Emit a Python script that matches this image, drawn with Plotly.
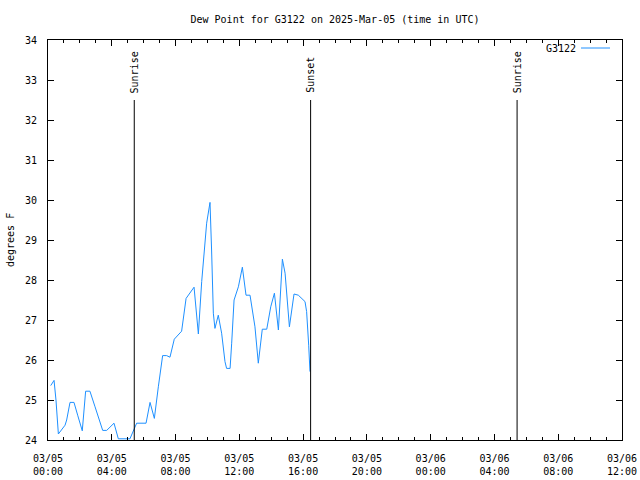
import pandas as pd
import plotly.graph_objects as go

# ---- data ----
hours = [0.17, 0.38, 0.5, 0.65, 1.07, 1.17, 1.38, 1.63, 1.86, 2.15,
         2.36, 2.63, 2.95, 3.43, 3.68, 4.14, 4.41, 5.14, 5.56, 6.15,
         6.4, 6.67, 6.92, 7.19, 7.44, 7.65, 7.92, 8.38, 8.66, 9.16,
         9.43, 9.64, 9.95, 10.16, 10.26, 10.37, 10.47, 10.68, 10.89, 11.1,
         11.2, 11.42, 11.52, 11.67, 11.94, 12.19, 12.42, 12.67, 12.98, 13.19,
         13.44, 13.72, 13.97, 14.2, 14.45, 14.7, 14.87, 15.14, 15.43, 15.7,
         16.12, 16.22, 16.35, 16.43]
dewpoint = [25.36, 25.49, 25.0, 24.15, 24.37, 24.5, 24.94, 24.94, 24.62, 24.23,
            25.22, 25.22, 24.83, 24.24, 24.24, 24.42, 24.03, 24.03, 24.42, 24.42,
            24.94, 24.54, 25.33, 26.11, 26.11, 26.07, 26.52, 26.72, 27.54, 27.82,
            26.65, 27.96, 29.42, 29.94, 28.75, 27.17, 26.79, 27.12, 26.67, 25.96,
            25.79, 25.79, 26.42, 27.5, 27.83, 28.32, 27.62, 27.62, 26.83, 25.92,
            26.77, 26.77, 27.33, 27.67, 26.75, 28.52, 28.17, 26.83, 27.65, 27.62,
            27.46, 27.21, 26.37, 25.71]
event_names = ["Sunrise", "Sunset", "Sunrise"]
event_hours = [5.41, 16.47, 29.42]
series_name = "G3122"
title_text = "Dew Point for G3122 on 2025-Mar-05 (time in UTC)"

base = pd.Timestamp("2025-03-05 00:00")
times = base + pd.to_timedelta(hours, unit="h")
ev_times = base + pd.to_timedelta(event_hours, unit="h")

FONT = "DejaVu Sans Mono"
L, R, T, B = 48, 622, 40, 440
PW, PH = R - L, B - T

fig = go.Figure()
fig.add_trace(go.Scatter(x=times, y=dewpoint, mode="lines", name=series_name,
                         line=dict(color="#1e90ff", width=1), showlegend=False))

for name, t in zip(event_names, ev_times):
    fig.add_shape(type="line", xref="x", yref="y", x0=t, x1=t, y0=24, y1=32.5,
                  line=dict(color="black", width=1))
    fig.add_annotation(x=t, y=32.62, xref="x", yref="y", text=name, textangle=-90,
                       showarrow=False, xanchor="center", yanchor="bottom",
                       font=dict(family=FONT, size=10, color="black"))

# legend (text then line sample, as in the reference)
fig.add_annotation(xref="paper", yref="paper", x=(578 - L) / PW, y=(B - 48) / PH,
                   text=series_name, showarrow=False, xanchor="right", yanchor="middle",
                   font=dict(family=FONT, size=10, color="black"))
fig.add_shape(type="line", xref="paper", yref="paper",
              x0=(581 - L) / PW, x1=(610 - L) / PW, y0=(B - 48) / PH, y1=(B - 48) / PH,
              line=dict(color="#1e90ff", width=1))

# y-axis title
fig.add_annotation(xref="paper", yref="paper", x=(10 - L) / PW, y=0.5,
                   text="degrees F", textangle=-90, showarrow=False,
                   xanchor="center", yanchor="middle",
                   font=dict(family=FONT, size=10, color="black"))

fig.update_layout(
    width=640, height=480,
    margin=dict(l=L, r=640 - R, t=T, b=480 - B, autoexpand=False),
    paper_bgcolor="white", plot_bgcolor="white",
    font=dict(family=FONT, size=10, color="black"),
    title=dict(text=title_text, x=0.5, xref="paper", y=1 - 19 / 480, yanchor="middle",
               xanchor="center", font=dict(family=FONT, size=10, color="black")),
    showlegend=False,
)
fig.update_xaxes(
    type="date", automargin=False,
    range=[base, base + pd.Timedelta(hours=36)],
    dtick=4 * 3600 * 1000, tick0=base,
    tickformat="%m/%d<br>%H:%M",
    ticks="inside", ticklen=6, tickcolor="black",
    minor=dict(dtick=3600 * 1000, ticks="inside", ticklen=3, tickcolor="black"),
    showline=True, linecolor="black", linewidth=1, mirror="ticks",
    showgrid=False, zeroline=False,
    ticklabelstandoff=9,
    tickfont=dict(family=FONT, size=10, color="black"),
)
fig.update_yaxes(
    range=[24, 34], dtick=1, automargin=False,
    ticks="inside", ticklen=6, tickcolor="black",
    showline=True, linecolor="black", linewidth=1, mirror="ticks",
    showgrid=False, zeroline=False,
    ticklabelstandoff=8,
    tickfont=dict(family=FONT, size=10, color="black"),
)

fig.write_html("out.html")
